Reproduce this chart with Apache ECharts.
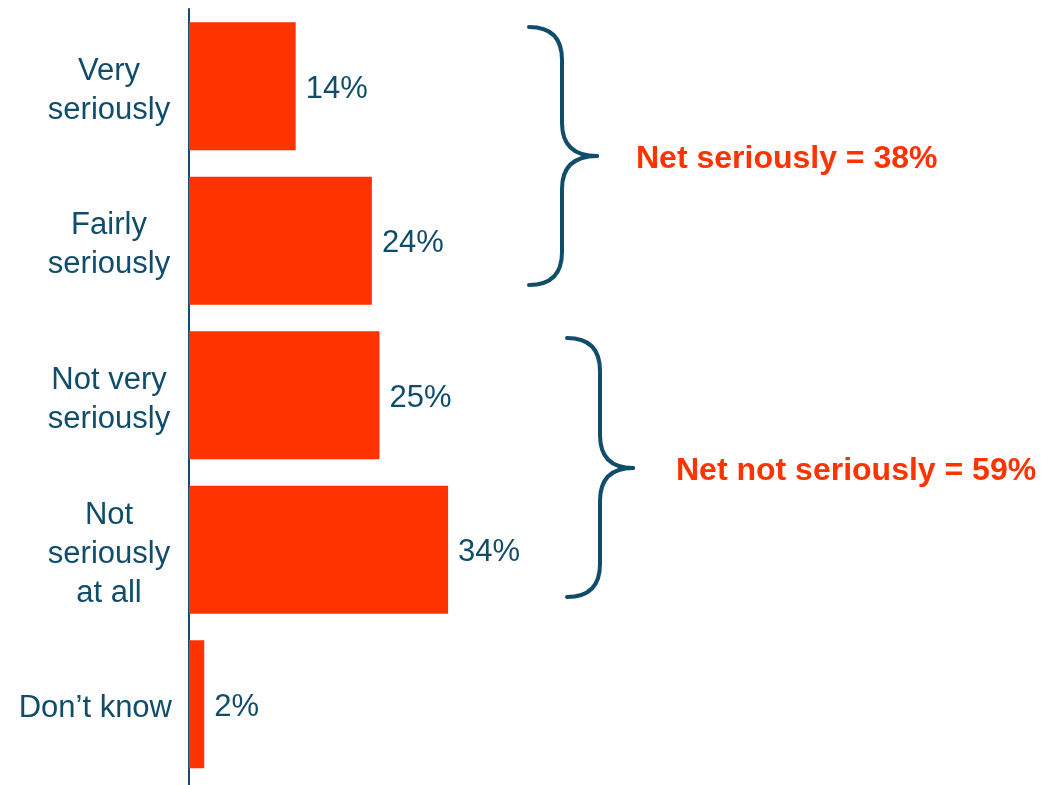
<!DOCTYPE html>
<html>
<head>
<meta charset="utf-8">
<script src="https://cdn.jsdelivr.net/npm/echarts@6/dist/echarts.min.js"></script>
<style>
  html, body { margin: 0; padding: 0; background: #fff; }
  #chart { width: 1048px; height: 785px; }
</style>
</head>
<body>
<div id="chart"></div>
<script>
const categories = ['Very\nseriously', 'Fairly\nseriously', 'Not very\nseriously', 'Not\nseriously\nat all', 'Don\u2019t know']
const values = [14, 24, 25, 34, 2]
const netLabels = ['Net seriously = 38%', 'Net not seriously = 59%']

const ORANGE = '#FF3300'
const TEAL = '#0F4D6A'
const FONT = '"Liberation Sans", Arial, sans-serif'

const chart = echarts.init(document.getElementById('chart'))

// curly brace "}" made of curves and lines: x0 = ends, x1 = spine, x2 = tip
function brace(x0, x1, x2, yTop, yMid, yBot) {
  const r = x1 - x0
  const style = { fill: 'none', stroke: TEAL, lineWidth: 4, lineCap: 'round' }
  const curve = (a, b, c, d, cx, cy) => ({
    type: 'bezierCurve',
    shape: { x1: a, y1: b, x2: c, y2: d, cpx1: cx, cpy1: cy },
    style,
  })
  const line = (a, b, c, d) => ({ type: 'line', shape: { x1: a, y1: b, x2: c, y2: d }, style })
  return [
    curve(x0, yTop, x1, yTop + r, x1, yTop),
    line(x1, yTop + r, x1, yMid - r),
    curve(x1, yMid - r, x2, yMid, x1, yMid),
    curve(x2, yMid, x1, yMid + r, x1, yMid),
    line(x1, yMid + r, x1, yBot - r),
    curve(x1, yBot - r, x0, yBot, x1, yBot),
  ]
}

chart.setOption({
  backgroundColor: '#fff',
  animation: false,
  textStyle: { fontFamily: FONT },
  grid: { left: 189, right: 97, top: 9, bottom: 3.5, containLabel: false },
  xAxis: {
    type: 'value',
    min: 0,
    max: 100,
    show: false,
  },
  yAxis: {
    type: 'category',
    data: categories,
    inverse: true,
    axisLine: { show: true, lineStyle: { color: TEAL, width: 2 } },
    axisTick: { show: false },
    axisLabel: {
      margin: 17,
      color: TEAL,
      fontSize: 31,
      lineHeight: 39,
      fontFamily: FONT,
      padding: [9, 0, 0, 0],
      formatter: (v) => {
        if (v.indexOf('\n') < 0) return v
        return v.split('\n').map((l) => '{c|' + l + '}').join('\n')
      },
      rich: {
        c: { width: 126, align: 'center', fontSize: 31, lineHeight: 39, color: TEAL, fontFamily: FONT },
      },
    },
  },
  series: [
    {
      type: 'bar',
      data: values,
      barWidth: 128,
      itemStyle: { color: ORANGE },
      label: {
        show: true,
        position: 'right',
        distance: 10,
        offset: [0, 3],
        color: TEAL,
        fontSize: 31,
        fontFamily: FONT,
        formatter: '{c}%',
      },
    },
  ],
  graphic: [
    // axis line runs to the bottom edge
    { type: 'line', shape: { x1: 189, y1: 770, x2: 189, y2: 785 }, style: { stroke: TEAL, lineWidth: 2 } },
    ...brace(529, 562, 597, 27, 156, 285),
    ...brace(567, 600, 633, 338, 468, 597),
    {
      type: 'text',
      left: 636,
      top: 143,
      style: { text: netLabels[0], fill: ORANGE, fontSize: 32, fontWeight: 'bold', fontFamily: FONT },
    },
    {
      type: 'text',
      left: 676,
      top: 455,
      style: { text: netLabels[1], fill: ORANGE, fontSize: 32, fontWeight: 'bold', fontFamily: FONT },
    },
  ],
})
</script>
</body>
</html>
